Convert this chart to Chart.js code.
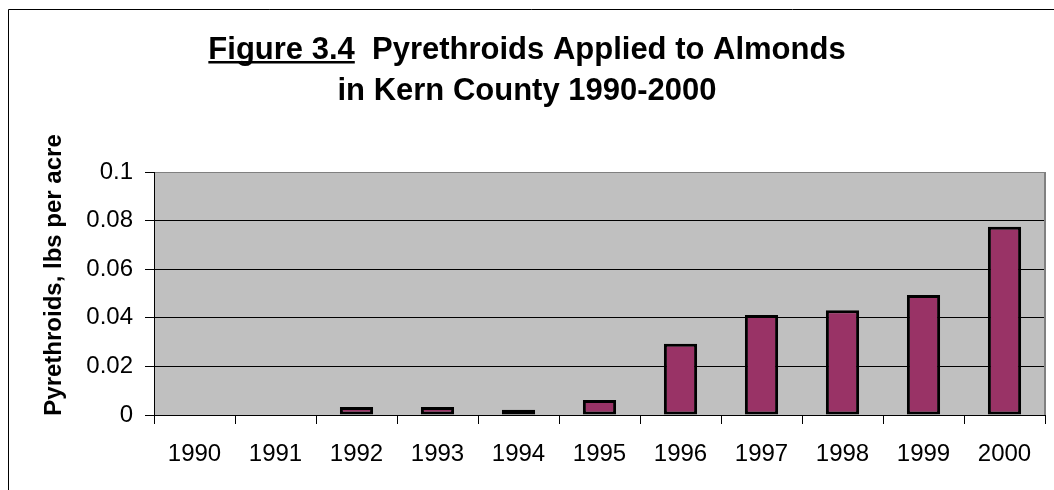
<!DOCTYPE html>
<html>
<head>
<meta charset="utf-8">
<script src="https://cdn.jsdelivr.net/npm/chart.js@4.4.0/dist/chart.umd.min.js"></script>
<style>
  html, body { margin: 0; padding: 0; background: #fff; }
  #wrap { width: 1054px; height: 490px; position: relative; }
</style>
</head>
<body>
<div id="wrap"><canvas id="chart" width="1054" height="490"></canvas></div>
<script>
const years = ['1990', '1991', '1992', '1993', '1994', '1995', '1996', '1997', '1998', '1999', '2000'];
const lbsPerAcre = [0, 0, 0.0033, 0.0033, 0.0022, 0.0062, 0.0293, 0.0412, 0.0431, 0.0494, 0.0775];
const yTicks = [0, 0.02, 0.04, 0.06, 0.08, 0.1];

const titleFigure = 'Figure 3.4';
const titleLine1 = '  Pyrethroids Applied to Almonds';
const titleLine2 = 'in Kern County 1990-2000';
const yTitle = 'Pyrethroids, lbs per acre';

const FONT = '"Liberation Sans", Arial, sans-serif';

// grey plot background, frame, titles
const decor = {
  id: 'decor',
  beforeDraw(chart) {
    const { ctx, chartArea: a } = chart;
    ctx.save();
    ctx.fillStyle = '#c0c0c0';
    ctx.fillRect(a.left, a.top, a.right - a.left, a.bottom - a.top);
    ctx.restore();
  },
  afterDraw(chart) {
    const { ctx, chartArea: a } = chart;
    ctx.save();
    // right edge of plot
    ctx.strokeStyle = '#808080';
    ctx.lineWidth = 2;
    ctx.beginPath();
    ctx.moveTo(a.right, a.top);
    ctx.lineTo(a.right, a.bottom);
    ctx.stroke();

    // outer frame (only left and top visible)
    ctx.strokeStyle = '#000';
    ctx.lineWidth = 1;
    ctx.beginPath();
    ctx.moveTo(8.5, 490);
    ctx.lineTo(8.5, 9.5);
    ctx.lineTo(1054, 9.5);
    ctx.stroke();

    // title
    ctx.fillStyle = '#000';
    ctx.font = 'bold 31px ' + FONT;
    ctx.textBaseline = 'alphabetic';
    ctx.textAlign = 'left';
    const cx = 527;
    const w1 = ctx.measureText(titleFigure).width;
    const w2 = ctx.measureText(titleLine1).width;
    const x0 = cx - (w1 + w2) / 2;
    ctx.fillText(titleFigure, x0, 59);
    ctx.fillText(titleLine1, x0 + w1, 59);
    ctx.fillRect(x0, 61, w1, 2.5);
    ctx.textAlign = 'center';
    ctx.fillText(titleLine2, cx, 100);

    // y axis title
    ctx.font = 'bold 24px ' + FONT;
    ctx.translate(61, 275);
    ctx.rotate(-Math.PI / 2);
    ctx.fillText(yTitle, 0, 0);
    ctx.restore();
  }
};

const data = {
  labels: years,
  datasets: [
    {
      data: lbsPerAcre,
      backgroundColor: '#993366',
      borderColor: '#000',
      borderWidth: 3,
      borderSkipped: false,
      barPercentage: 0.41,
      categoryPercentage: 1
    }
  ]
};

const config = {
  type: 'bar',
  data,
  plugins: [decor],
  options: {
    responsive: false,
    animation: false,
    events: [],
    layout: { padding: { left: 0, top: 172, right: 9, bottom: 0 } },
    plugins: {
      legend: { display: false },
      title: { display: false },
      tooltip: { enabled: false }
    },
    scales: {
      x: {
        offset: true,
        grid: {
          offset: true,
          drawOnChartArea: false,
          color: '#000',
          tickLength: 9
        },
        border: { color: '#000', width: 1 },
        ticks: {
          color: '#000',
          font: { family: FONT, size: 24 },
          padding: 16,
          maxRotation: 0,
          autoSkip: false
        },
        afterFit(scale) { scale.height = 75; }
      },
      y: {
        min: 0,
        max: 0.1,
        afterBuildTicks(scale) {
          scale.ticks = yTicks.map(v => ({ value: v }));
        },
        grid: {
          color: ctx => (ctx.tick && ctx.tick.value === 0.1 ? '#808080' : '#000'),
          tickColor: '#000',
          tickLength: 9
        },
        border: { color: '#000', width: 1 },
        ticks: {
          color: '#000',
          font: { family: FONT, size: 24 },
          padding: 12,
          callback: v => String(+v.toFixed(2))
        },
        afterFit(scale) { scale.width = 154; }
      }
    }
  }
};

const myChart = new Chart(document.getElementById('chart'), config);
</script>
</body>
</html>
